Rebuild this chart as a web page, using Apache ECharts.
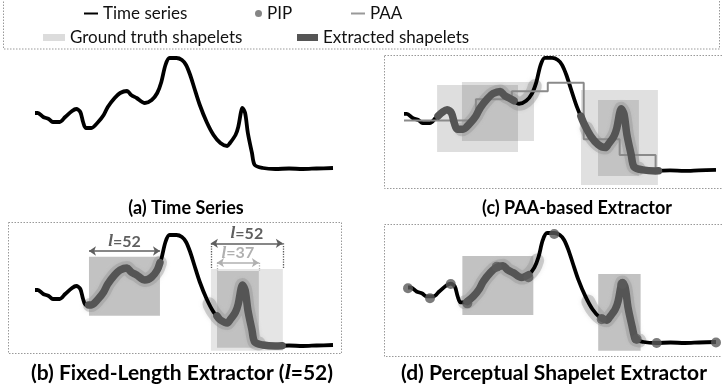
<!DOCTYPE html>
<html><head><meta charset="utf-8">
<script src="https://cdn.jsdelivr.net/npm/echarts@6/dist/echarts.min.js"></script>
<style>html,body{margin:0;padding:0;background:#fff}#c{width:722px;height:387px}</style>
</head><body><div id="c"></div>
<script>
// ---------- DATA ----------
// time series: [time index, value]
const timeSeries = [
[0,5.6],[2,5.6],[6,5.2],[10,5.0],[13,4.7],[18,4.7],[22,5.2],[27,5.8],[30,6.0],[33,5.7],[35,4.7],[37,4.1],[41,4.1],[46,4.7],[50,5.4],[53,6.2],[58,7.1],[62,7.6],[67,7.8],[70,7.4],[74,7.1],[80,6.6],[85,6.9],[89,7.6],[92,8.7],[95,10.4],[98,11.1],[103,11.1],[107,10.9],[110,10.4],[113,9.4],[116,8.1],[120,6.4],[125,4.7],[130,3.4],[135,2.6],[140,2.3],[142,2.6],[146,3.4],[148,4.2],[150,5.7],[151,6.1],[153,5.6],[155,3.6],[158,1.6],[160,0.4],[166,0.1],[175,0],[185,0.05],[195,0],[205,0.05],[217,0.1]
];
// PAA segment starts and levels
const paaSteps = [[0,4.96],[25,4.96],[50,7.05],[75,7.84],[100,8.66],[125,3.11],[150,1.57],[175,0.25],[177,0.25]];
// Perceptually important points
const pipPoints = [[0,5.52],[15.5,4.51],[30.1,5.95],[41.8,4.0],[62.5,7.7],[84.8,6.63],[103,11.0],[136.5,2.39],[151,5.95],[161.1,0.4],[175.2,0.0],[217,0.05]];
// ground-truth shapelet ranges [t0,t1]
const groundTruth = [[40,91],[127,163]];
// extracted shapelet ranges per panel
const extractedB = [[39,91],[132.5,180]];
const extractedC = [[23.7,76.5],[123,177]];
const extractedD = [[41.8,85],[136.5,161.1]];
// boxes per panel [t0,t1,vTop,vBottom]
const boxesB = [[39.3,91,8.93,3.03],[128.1,180.5,7.7,-0.47],[132.5,163,7.5,-0.17]];
const boxesC = [[23.0,79.3,8.45,1.87],[40.3,90.4,8.74,2.95],[123.1,176.6,7.96,-1.38],[134.9,163.4,6.97,-0.49]];
const boxesD = [[38.3,88.3,8.78,2.83],[134,163.9,6.96,-0.78]];
// length annotations in panel (b): [t0,t1,v,label]
const lenArrows = [[39.3,91,9.5,'52'],[128.1,180.5,10.27,'52'],[132.5,163,8.33,'37']];
const panelTitles = ['(a) Time Series','(b) Fixed-Length Extractor (','(c) PAA-based Extractor','(d) Perceptual Shapelet Extractor'];
const legendNames = ['Time series','PIP','PAA','Ground truth shapelets','Extracted shapelets'];

// ---------- helpers ----------
function interp(t){
  for(let i=0;i<timeSeries.length-1;i++){
    const a=timeSeries[i],b=timeSeries[i+1];
    if(t>=a[0]&&t<=b[0]){return a[1]+(b[1]-a[1])*(t-a[0])/(b[0]-a[0]);}
  }
  return timeSeries[timeSeries.length-1][1];
}
function seg(t0,t1){
  const out=[[t0,interp(t0)]];
  timeSeries.forEach(p=>{if(p[0]>t0&&p[0]<t1)out.push(p);});
  out.push([t1,interp(t1)]);
  return out;
}

const FONT='Lato';
const grids=[
 {left:35,top:49,width:298,height:140},
 {left:35,top:226,width:298,height:140},
 {left:404,top:48.8,width:312,height:142.5},
 {left:408,top:224.1,width:308,height:138.7}
];
const xAxes=grids.map((g,i)=>({type:'value',gridIndex:i,min:0,max:217,show:false}));
const yAxes=grids.map((g,i)=>({type:'value',gridIndex:i,min:-2,max:12,show:false}));

const series=[];
function addTS(gi){
  series.push({name:'Time series',type:'line',xAxisIndex:gi,yAxisIndex:gi,data:timeSeries,showSymbol:false,symbol:'none',smooth:0.3,z:4,
    color:'#000',lineStyle:{color:'#000',width:3.8,join:'round'},silent:true});
}
function addBoxes(gi,boxes,alphas){
  series.push({type:'line',xAxisIndex:gi,yAxisIndex:gi,data:[],z:1,silent:true,
    markArea:{silent:true,data:boxes.map((b,k)=>[{coord:[b[0],b[2]],itemStyle:{color:'rgba(0,0,0,'+alphas[k]+')'}},{coord:[b[1],b[3]]}])}});
}
function addGT(gi){
  groundTruth.forEach(r=>{
    series.push({name:'Ground truth shapelets',type:'line',xAxisIndex:gi,yAxisIndex:gi,data:seg(r[0],r[1]),showSymbol:false,symbol:'none',smooth:0.3,z:3,silent:true,
      color:'#d9d9d9',lineStyle:{color:'rgba(150,150,150,0.42)',width:14,cap:'round',join:'round',shadowBlur:4,shadowColor:'rgba(150,150,150,0.5)'}});
  });
}
function addEx(gi,ranges){
  ranges.forEach(r=>{
    series.push({name:'Extracted shapelets',type:'line',xAxisIndex:gi,yAxisIndex:gi,data:seg(r[0],r[1]),showSymbol:false,symbol:'none',smooth:0.3,z:6,silent:true,
      color:'#555',lineStyle:{color:'#555',width:7.5,cap:'round',join:'round'}});
  });
}
// panel a
addTS(0);
// panel b
addBoxes(1,boxesB,[0.24,0.1,0.16]);
addGT(1);addTS(1);addEx(1,extractedB);
// length arrows
const lblColors=['#5f5f5f','#5f5f5f','#b0b0b0'];
series.push({type:'line',xAxisIndex:1,yAxisIndex:1,data:[],z:7,silent:true,
  markLine:{silent:true,symbol:['arrow','arrow'],symbolSize:[7,7],animation:false,
    data:lenArrows.map((a,k)=>[{coord:[a[0],a[2]],lineStyle:{color:lblColors[k],width:1.6,type:'solid'},
      label:{show:true,position:'middle',distance:1,formatter:'{i|l}{b|='+a[3]+'}',color:lblColors[k],
        rich:{i:{fontStyle:'italic',fontFamily:'Liberation Serif',fontSize:17,fontWeight:'bold',color:lblColors[k]},b:{fontFamily:FONT,fontWeight:'bold',fontSize:16,color:lblColors[k]}}}},
      {coord:[a[1],a[2]]}])}});
// dotted guides
series.push({type:'line',xAxisIndex:1,yAxisIndex:1,data:[],z:7,silent:true,
  markLine:{silent:true,symbol:['none','none'],label:{show:false},animation:false,
    data:[
      [{coord:[lenArrows[1][0],lenArrows[1][2]],lineStyle:{color:'#5f5f5f',type:'dotted',width:1.3}},{coord:[boxesB[1][0],boxesB[1][2]]}],
      [{coord:[lenArrows[1][1],lenArrows[1][2]],lineStyle:{color:'#5f5f5f',type:'dotted',width:1.3}},{coord:[boxesB[1][1],boxesB[1][2]]}],
      [{coord:[lenArrows[2][0],lenArrows[2][2]],lineStyle:{color:'#b0b0b0',type:'dotted',width:1.3}},{coord:[boxesB[2][0],boxesB[2][2]]}],
      [{coord:[lenArrows[2][1],lenArrows[2][2]],lineStyle:{color:'#b0b0b0',type:'dotted',width:1.3}},{coord:[boxesB[2][1],boxesB[2][2]]}]
    ]}});
// panel c
addBoxes(2,boxesC,[0.13,0.13,0.12,0.13]);
addGT(2);addTS(2);
series.push({name:'PAA',type:'line',xAxisIndex:2,yAxisIndex:2,data:paaSteps,step:'end',showSymbol:false,symbol:'none',z:5,silent:true,
  color:'#8a8a8a',lineStyle:{color:'#8a8a8a',width:2}});
addEx(2,extractedC);
// panel d
addBoxes(3,boxesD,[0.24,0.24]);
addGT(3);addTS(3);addEx(3,extractedD);
series.push({name:'PIP',type:'scatter',xAxisIndex:3,yAxisIndex:3,data:pipPoints,symbolSize:10,z:8,silent:true,
  color:'#5a5a5a',itemStyle:{color:'#5a5a5a'}});

// legends
const legTxt={fontFamily:FONT,fontSize:17,color:'#111'};
function leg(name,left,top,icon,w,h,color){
  return {data:[name],left:left,top:top,icon:icon,itemWidth:w,itemHeight:h,selectedMode:false,padding:0,itemGap:0,
    textStyle:legTxt,itemStyle:{color:color,borderWidth:0}};
}
const legend=[
  leg(legendNames[0],84,5,'rect',14,2,'#000'),
  leg(legendNames[1],255,5,'circle',7,7,'#666'),
  leg(legendNames[2],351,5,'rect',14,2,'#999'),
  leg(legendNames[3],43,29,'rect',22,7,'#dcdcdc'),
  leg(legendNames[4],297,29,'rect',21,7,'#555')
];

const titleCenters=[[186,208],[182,373],[577,208],[554,373]];
const titleSizes=[18,21,18,21];
const graphic=[
  {type:'rect',shape:{x:3.5,y:-3,width:716,height:52},style:{fill:'none',stroke:'#999',lineWidth:1,lineDash:[1.5,1.5]},silent:true},
  {type:'rect',shape:{x:8.5,y:222.5,width:333,height:131},style:{fill:'none',stroke:'#999',lineWidth:1,lineDash:[1.5,1.5]},silent:true},
  {type:'rect',shape:{x:384.5,y:55.5,width:345,height:133},style:{fill:'none',stroke:'#999',lineWidth:1,lineDash:[1.5,1.5]},silent:true},
  {type:'rect',shape:{x:384.5,y:224.5,width:345,height:132},style:{fill:'none',stroke:'#999',lineWidth:1,lineDash:[1.5,1.5]},silent:true}
];
[0,2,3].forEach(k=>{
  graphic.push({type:'text',x:titleCenters[k][0],y:titleCenters[k][1],silent:true,
    style:{text:panelTitles[k],font:'bold '+titleSizes[k]+'px '+FONT,fill:'#000',align:'center',verticalAlign:'middle'}});
});
graphic.push({type:'text',x:titleCenters[1][0],y:titleCenters[1][1],silent:true,
  style:{text:'{b|'+panelTitles[1]+'}{i|l}{b|=52)}',align:'center',verticalAlign:'middle',fill:'#000',
    rich:{b:{font:'bold '+titleSizes[1]+'px '+FONT,fill:'#000'},i:{fontFamily:'Liberation Serif',fontStyle:'italic',fontWeight:'bold',fontSize:22,fill:'#000'}}}});

const chart=echarts.init(document.getElementById('c'),null,{renderer:'canvas'});
chart.setOption({animation:false,grid:grids,xAxis:xAxes,yAxis:yAxes,series:series,legend:legend,graphic:graphic});
</script></body></html>
